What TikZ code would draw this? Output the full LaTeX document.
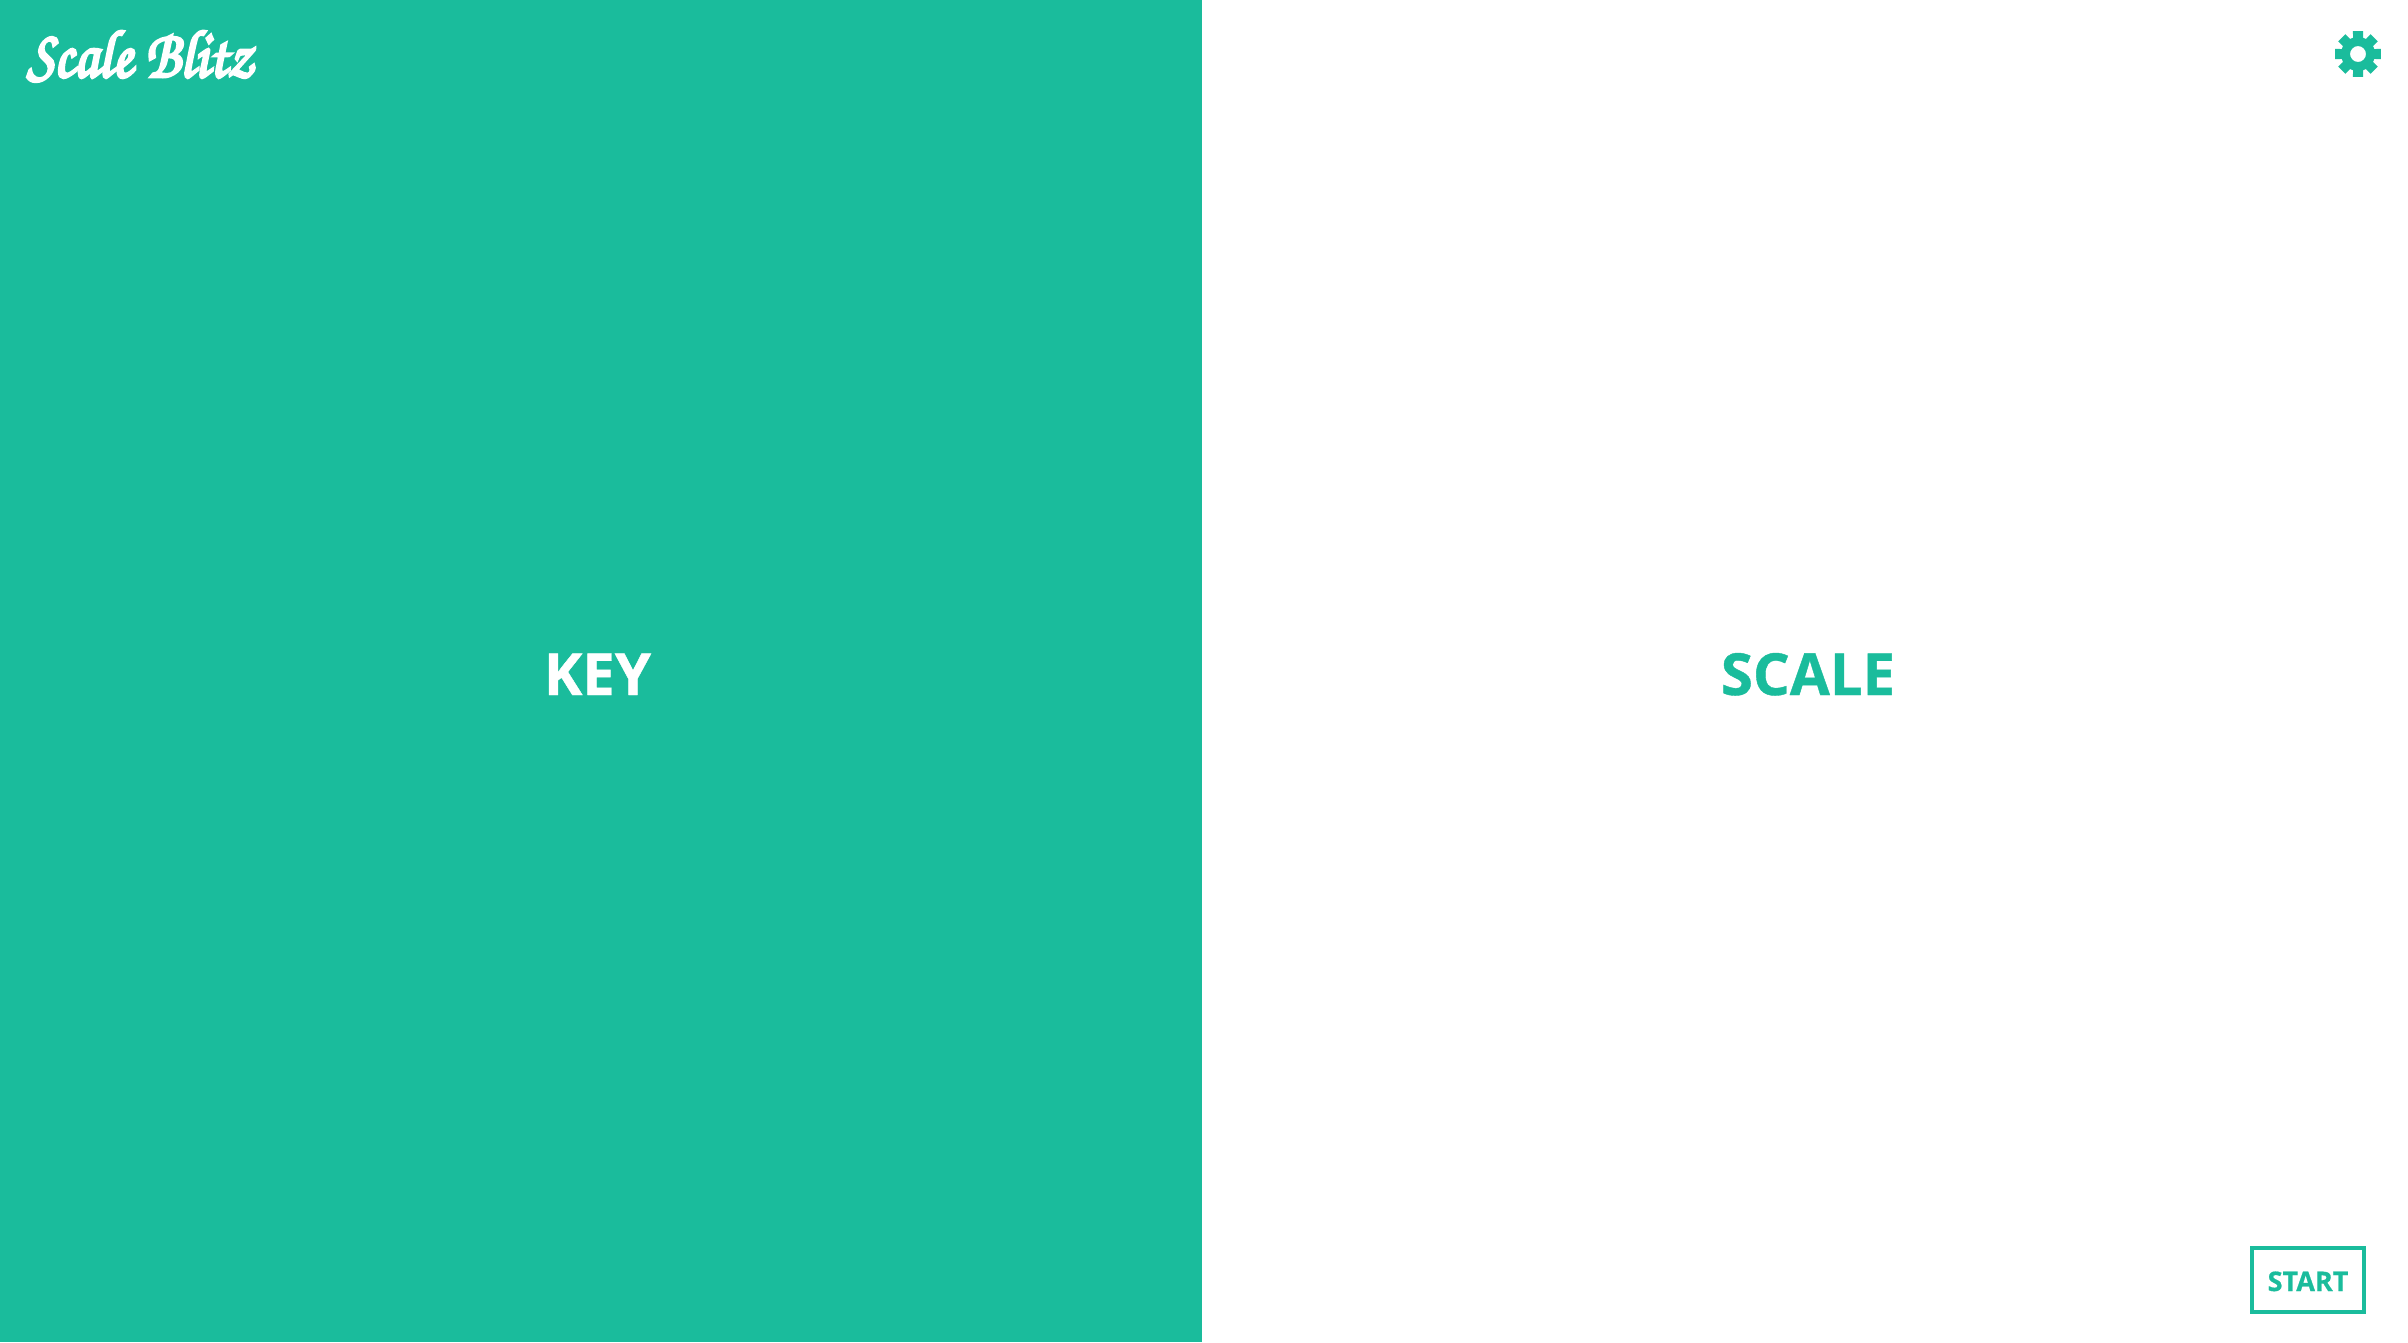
\documentclass[tikz,border=0pt]{standalone}
\usepackage{fontspec}
\setmainfont{Open Sans}[BoldFeatures={FakeBold=0.7}]
\newfontfamily\logofont[FakeBold=4,FakeStretch=0.86]{TeX Gyre Chorus}
\definecolor{teal}{HTML}{1ABC9C}
\tikzset{
  label text/.style={anchor=base,inner sep=0pt,font=\bfseries\fontsize{58}{58}\selectfont},
  start text/.style={anchor=base,inner sep=0pt,text=teal,font=\bfseries\fontsize{27}{28}\selectfont},
  logo text/.style={anchor=base west,inner sep=0pt,text=white,font=\logofont\fontsize{68}{68}\selectfont},
}
\begin{document}
\begin{tikzpicture}[x=1pt,y=-1pt]
\useasboundingbox (0,0) rectangle (2408,1342);
\fill[white] (0,0) rectangle (2408,1342);
\fill[teal] (0,0) rectangle (1202,1342);
\node[logo text] (logo) at (27,77) {Scale Blitz};
\node[label text,text=white] (key) at (597.5,695) {KEY};
\node[label text,text=teal] (scale) at (1808,695) {SCALE};
\draw[teal,line width=4pt] (2252,1248) rectangle (2364,1312);
\node[start text] (start) at (2308,1291) {START};
% gear
\begin{scope}[shift={(2358,54)}]
\fill[teal,even odd rule]
  (-17:17)
  \foreach \a in {0,45,...,315} {
    -- ({\a-17}:17) -- ({\a-12.5}:23.5) -- ({\a+12.5}:23.5) -- ({\a+17}:17)
  } -- cycle
  (0,0) circle (8);
\end{scope}
\end{tikzpicture}
\end{document}
